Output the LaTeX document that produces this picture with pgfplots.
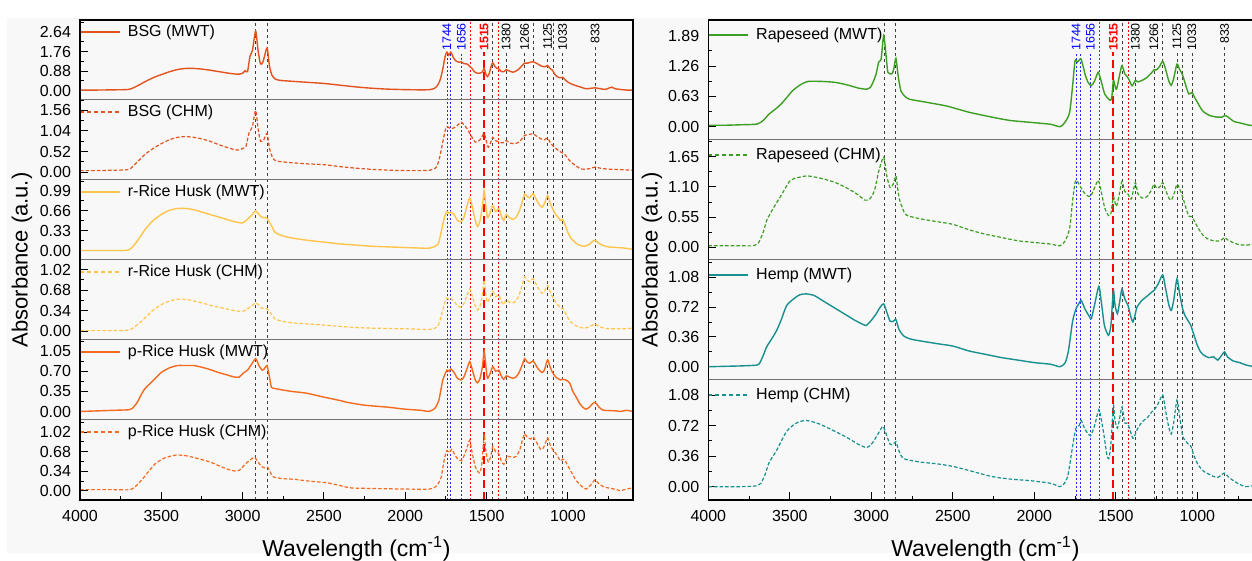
\documentclass[border=0pt]{standalone}
\usepackage{fontspec}
\setmainfont{Liberation Sans}
\usepackage{pgfplots}
\pgfplotsset{compat=1.18}

\definecolor{bgc}{HTML}{F8F8F8}
\definecolor{bsg}{HTML}{E2531F}
\definecolor{prh}{HTML}{F46A1F}
\definecolor{rrh}{HTML}{FFC54A}
\definecolor{rap}{HTML}{3C9E22}
\definecolor{hemp}{HTML}{17908F}

\tikzset{
  blk/.style={black!75, line width=0.4pt, dash pattern=on 1.5pt off 1.5pt},
  blu/.style={blue!85, line width=0.4pt, dash pattern=on 1pt off 1pt},
  redd/.style={red, line width=0.4pt, dash pattern=on 1pt off 1pt},
  redb/.style={red, line width=1pt, dash pattern=on 4pt off 2pt},
  lab/.style={rotate=90, anchor=east, font=\fontsize{6.2}{7}\selectfont, fill=bgc, inner sep=0.7pt},
  mwt/.style={line width=0.7pt},
  chm/.style={line width=0.6pt, dash pattern=on 1.8pt off 1pt},
  legmwt/.style={line width=0.9pt},
  legchm/.style={line width=0.9pt, dash pattern=on 2pt off 1.5pt},
}

\pgfplotsset{
  base/.style={scale only axis, anchor=south west, xmin=600, xmax=4000, x dir=reverse,
    axis line style={draw=black!55, line width=0.5pt},
    tick align=inside, ytick pos=left, xtick pos=bottom,
    major tick length=4pt, minor tick length=2pt,
    tick style={black, line width=0.5pt},
    xtick=\empty,
    ticklabel style={font=\fontsize{8}{9}\selectfont},
    yticklabel style={xshift=-1pt},
    every axis plot/.append style={smooth, tension=0.4},
  },
  L/.style={base, width=276.5pt, height=40pt},
  R/.style={base, width=277.1pt, height=60pt},
  bottomx/.style={xtick={1000,1500,2000,2500,3000,3500,4000},
    xticklabels={1000,1500,2000,2500,3000,3500,4000},
    minor xtick={750,1250,1750,2250,2750,3250,3750}, xticklabel style={yshift=-1.5pt}},
  vover/.style={scale only axis, anchor=south west, xmin=600, xmax=4000, x dir=reverse,
    ymin=0, ymax=240, height=240pt, hide axis, clip=false},
}

% legend sample: style, text, distance below the top edge
\newcommand\leg[3]{\draw[#1] ([yshift=-#3]rel axis cs:0,1) -- ++(20pt,0pt)
  node[right, text=black, inner sep=0pt, xshift=3.5pt, font=\fontsize{8}{9}\selectfont] {#2};}

\newcommand\vlines{%
  \draw[blk] (axis cs:2920,0) -- (axis cs:2920,240);
  \draw[blk] (axis cs:2850,0) -- (axis cs:2850,240);
  \draw[blu] (axis cs:1744,0) -- (axis cs:1744,240);
  \draw[blu] (axis cs:1720,0) -- (axis cs:1720,240);
  \draw[blu] (axis cs:1656,0) -- (axis cs:1656,240);
  \draw[redd] (axis cs:1602,0) -- (axis cs:1602,240);
  \draw[blk] (axis cs:1462,0) -- (axis cs:1462,240);
  \draw[redd] (axis cs:1425,0) -- (axis cs:1425,240);
  \draw[blk] (axis cs:1380,0) -- (axis cs:1380,240);
  \draw[blk] (axis cs:1266,0) -- (axis cs:1266,240);
  \draw[blk] (axis cs:1213,0) -- (axis cs:1213,240);
  \draw[blk] (axis cs:1125,0) -- (axis cs:1125,240);
  \draw[blk] (axis cs:1092,0) -- (axis cs:1092,240);
  \draw[blk] (axis cs:1033,0) -- (axis cs:1033,240);
  \draw[blk] (axis cs:833,0) -- (axis cs:833,240);
  \draw[redb] (axis cs:1515,0) -- (axis cs:1515,240);
  \node[lab, text=blue] at (axis cs:1744,239.3) {1744};
  \node[lab, text=blue] at (axis cs:1656,239.3) {1656};
  \node[lab, text=red, font=\fontsize{6.2}{7}\selectfont\bfseries] at (axis cs:1515,239.3) {1515};
  \node[lab] at (axis cs:1380,239.3) {1380};
  \node[lab] at (axis cs:1266,239.3) {1266};
  \node[lab] at (axis cs:1125,239.3) {1125};
  \node[lab] at (axis cs:1033,239.3) {1033};
  \node[lab] at (axis cs:833,239.3) {833};
}

\begin{document}
\begin{tikzpicture}
\fill[bgc] (3.5pt,4pt) rectangle (626pt,271.5pt);

% ---------------- LEFT PANEL ----------------
\begin{axis}[vover, at={(40pt,30.5pt)}, width=276.5pt]
\vlines
\end{axis}

\begin{axis}[L, at={(40pt,230.5pt)}, ymin=-0.43, ymax=3.197,
  ytick={0,0.88,1.76,2.64}, yticklabels={0.00,0.88,1.76,2.64}, minor ytick={0.44,1.32,2.2,3.08}]
\addplot[bsg, mwt] coordinates {(4000,0.02) (3900,0.02) (3800,0.03) (3700,0.05) (3650,0.2) (3600,0.4) (3550,0.58) (3500,0.72) (3450,0.85) (3400,0.95) (3350,1.0) (3300,1.0) (3250,0.97) (3200,0.92) (3150,0.86) (3100,0.8) (3050,0.75) (3020,0.74) (3000,0.78) (2985,0.9) (2970,0.85) (2955,1.55) (2940,1.8) (2920,2.7) (2905,1.8) (2890,1.2) (2875,1.3) (2850,1.92) (2835,1.1) (2820,0.7) (2800,0.52) (2770,0.46) (2700,0.42) (2600,0.37) (2500,0.32) (2400,0.24) (2300,0.16) (2200,0.1) (2100,0.06) (2000,0.04) (1900,0.03) (1850,0.04) (1820,0.1) (1800,0.25) (1785,0.5) (1770,0.95) (1755,1.55) (1744,1.74) (1732,1.6) (1720,1.74) (1705,1.5) (1690,1.35) (1670,1.28) (1656,1.3) (1640,1.22) (1620,1.2) (1604,1.1) (1590,1.0) (1575,0.85) (1555,0.78) (1535,0.8) (1525,0.85) (1515,1.0) (1505,0.75) (1495,0.63) (1485,0.75) (1470,1.15) (1462,1.26) (1450,1.1) (1435,1.0) (1425,0.98) (1410,0.86) (1395,0.85) (1380,0.94) (1365,0.9) (1340,0.83) (1320,0.88) (1300,0.98) (1280,1.15) (1266,1.24) (1250,1.24) (1230,1.28) (1215,1.31) (1200,1.26) (1180,1.18) (1160,1.1) (1140,1.08) (1125,1.14) (1110,1.0) (1095,0.92) (1080,0.72) (1060,0.6) (1045,0.58) (1033,0.6) (1020,0.5) (1000,0.38) (980,0.3) (950,0.22) (920,0.15) (890,0.08) (860,0.1) (833,0.12) (800,0.08) (770,0.05) (745,0.12) (730,0.15) (710,0.08) (680,0.05) (640,0.02) (600,0.02)};
\leg{bsg, legmwt}{BSG (MWT)}{6pt}
\end{axis}

\begin{axis}[L, at={(40pt,190.5pt)}, ymin=-0.197, ymax=1.823,
  ytick={0,0.52,1.04,1.56}, yticklabels={0.00,0.52,1.04,1.56}, minor ytick={0.26,0.78,1.3,1.82}]
\addplot[bsg, chm] coordinates {(4000,0.04) (3900,0.04) (3800,0.05) (3700,0.07) (3650,0.25) (3600,0.45) (3550,0.6) (3500,0.72) (3450,0.82) (3400,0.88) (3350,0.9) (3300,0.88) (3250,0.84) (3200,0.78) (3150,0.7) (3100,0.63) (3050,0.57) (3020,0.56) (3000,0.6) (2980,0.65) (2960,1.0) (2940,1.15) (2920,1.56) (2905,1.1) (2890,0.78) (2870,0.82) (2850,0.98) (2835,0.6) (2815,0.36) (2790,0.28) (2700,0.24) (2600,0.21) (2500,0.19) (2400,0.14) (2300,0.1) (2200,0.07) (2100,0.05) (2000,0.04) (1900,0.04) (1850,0.05) (1810,0.12) (1790,0.35) (1770,0.75) (1755,1.05) (1744,1.15) (1730,1.12) (1720,1.1) (1700,1.12) (1680,1.18) (1656,1.26) (1640,1.2) (1620,1.1) (1604,0.98) (1585,0.85) (1570,0.76) (1550,0.78) (1535,0.85) (1515,0.98) (1500,0.75) (1490,0.63) (1475,0.75) (1462,0.88) (1445,0.8) (1425,0.76) (1400,0.74) (1380,0.8) (1360,0.74) (1330,0.72) (1300,0.76) (1280,0.86) (1266,0.93) (1240,0.95) (1215,0.97) (1190,0.9) (1165,0.84) (1145,0.82) (1125,0.86) (1105,0.72) (1080,0.62) (1060,0.55) (1040,0.5) (1020,0.45) (1000,0.34) (980,0.25) (950,0.16) (920,0.08) (880,0.08) (850,0.11) (833,0.13) (800,0.1) (760,0.08) (700,0.07) (650,0.06) (600,0.05)};
\leg{bsg, legchm}{BSG (CHM)}{6pt}
\end{axis}

\begin{axis}[L, at={(40pt,150.5pt)}, ymin=-0.158, ymax=1.175,
  ytick={0,0.33,0.66,0.99}, yticklabels={0.00,0.33,0.66,0.99}, minor ytick={0.165,0.495,0.825,1.155}]
\addplot[rrh, mwt] coordinates {(4000,0.0) (3800,0.0) (3700,0.01) (3650,0.15) (3600,0.35) (3550,0.5) (3500,0.6) (3450,0.67) (3400,0.7) (3350,0.7) (3300,0.68) (3250,0.64) (3200,0.6) (3150,0.56) (3100,0.52) (3050,0.48) (3000,0.46) (2970,0.52) (2940,0.6) (2920,0.66) (2900,0.6) (2880,0.55) (2860,0.55) (2850,0.54) (2820,0.4) (2800,0.3) (2750,0.24) (2700,0.21) (2600,0.17) (2500,0.14) (2400,0.11) (2300,0.09) (2200,0.07) (2100,0.06) (2000,0.05) (1900,0.04) (1850,0.04) (1800,0.1) (1780,0.3) (1760,0.55) (1744,0.65) (1730,0.62) (1720,0.64) (1700,0.6) (1680,0.5) (1656,0.48) (1640,0.55) (1620,0.75) (1604,0.88) (1590,0.75) (1570,0.5) (1555,0.4) (1540,0.5) (1525,0.75) (1515,1.0) (1505,0.75) (1495,0.55) (1480,0.62) (1462,0.75) (1445,0.65) (1425,0.7) (1410,0.58) (1395,0.5) (1380,0.6) (1360,0.55) (1340,0.52) (1320,0.55) (1300,0.65) (1280,0.82) (1266,0.94) (1250,0.9) (1235,0.88) (1215,0.95) (1200,0.88) (1180,0.78) (1160,0.72) (1145,0.78) (1125,0.92) (1110,0.8) (1095,0.7) (1075,0.6) (1060,0.55) (1045,0.5) (1033,0.52) (1020,0.45) (1000,0.3) (980,0.2) (950,0.12) (920,0.08) (900,0.07) (870,0.1) (850,0.15) (833,0.17) (810,0.12) (780,0.08) (750,0.06) (700,0.05) (650,0.04) (600,0.02)};
\leg{rrh, legmwt}{r-Rice Husk (MWT)}{6pt}
\end{axis}

\begin{axis}[L, at={(40pt,110.5pt)}, ymin=-0.146, ymax=1.181,
  ytick={0,0.34,0.68,1.02}, yticklabels={0.00,0.34,0.68,1.02}, minor ytick={0.17,0.51,0.85}]
\addplot[rrh, chm] coordinates {(4000,0.01) (3800,0.01) (3700,0.02) (3650,0.1) (3600,0.22) (3550,0.35) (3500,0.44) (3450,0.5) (3400,0.53) (3350,0.53) (3300,0.5) (3250,0.47) (3200,0.43) (3150,0.4) (3100,0.37) (3050,0.34) (3000,0.33) (2970,0.37) (2940,0.43) (2920,0.47) (2900,0.43) (2880,0.38) (2850,0.37) (2820,0.27) (2800,0.2) (2750,0.16) (2700,0.14) (2600,0.12) (2500,0.1) (2400,0.08) (2300,0.06) (2200,0.05) (2000,0.04) (1850,0.03) (1800,0.08) (1780,0.25) (1760,0.45) (1744,0.55) (1730,0.52) (1720,0.54) (1700,0.5) (1680,0.42) (1656,0.4) (1640,0.46) (1620,0.6) (1604,0.7) (1590,0.6) (1570,0.42) (1555,0.35) (1540,0.42) (1525,0.62) (1515,0.85) (1505,0.62) (1495,0.48) (1480,0.55) (1462,0.66) (1445,0.57) (1425,0.6) (1410,0.5) (1395,0.44) (1380,0.52) (1360,0.48) (1340,0.47) (1320,0.5) (1300,0.6) (1280,0.78) (1266,0.9) (1250,0.85) (1235,0.82) (1215,0.87) (1200,0.8) (1180,0.7) (1160,0.63) (1145,0.66) (1125,0.76) (1110,0.66) (1095,0.57) (1075,0.48) (1060,0.43) (1045,0.38) (1033,0.38) (1020,0.33) (1000,0.22) (980,0.15) (950,0.09) (920,0.06) (900,0.05) (870,0.07) (850,0.1) (833,0.12) (810,0.08) (780,0.05) (750,0.04) (700,0.04) (650,0.04) (600,0.05)};
\leg{rrh, legchm}{r-Rice Husk (CHM)}{6pt}
\end{axis}

\begin{axis}[L, at={(40pt,70.5pt)}, ymin=-0.148, ymax=1.245,
  ytick={0,0.35,0.70,1.05}, yticklabels={0.00,0.35,0.70,1.05}, minor ytick={0.175,0.525,0.875,1.225}]
\addplot[prh, mwt] coordinates {(4000,0.0) (3900,0.01) (3800,0.02) (3700,0.03) (3680,0.05) (3650,0.15) (3626,0.28) (3600,0.4) (3550,0.54) (3500,0.68) (3450,0.76) (3400,0.8) (3350,0.8) (3300,0.8) (3250,0.77) (3200,0.73) (3150,0.68) (3100,0.64) (3050,0.6) (3020,0.6) (3000,0.66) (2970,0.72) (2950,0.8) (2920,0.92) (2900,0.8) (2880,0.72) (2865,0.75) (2850,0.8) (2835,0.6) (2823,0.42) (2800,0.4) (2785,0.39) (2700,0.35) (2610,0.32) (2500,0.25) (2400,0.19) (2358,0.16) (2250,0.11) (2107,0.075) (2000,0.04) (1900,0.02) (1856,0.0) (1820,0.05) (1794,0.19) (1770,0.54) (1744,0.72) (1730,0.7) (1720,0.74) (1700,0.68) (1680,0.58) (1656,0.55) (1640,0.6) (1620,0.75) (1604,0.87) (1590,0.75) (1570,0.55) (1555,0.5) (1540,0.58) (1525,0.8) (1515,1.05) (1505,0.8) (1495,0.58) (1480,0.65) (1462,0.78) (1445,0.7) (1425,0.72) (1410,0.62) (1395,0.56) (1380,0.62) (1360,0.6) (1340,0.58) (1320,0.6) (1300,0.68) (1280,0.82) (1266,0.92) (1250,0.86) (1235,0.84) (1215,0.88) (1200,0.82) (1180,0.73) (1160,0.68) (1145,0.72) (1125,0.9) (1110,0.78) (1095,0.68) (1075,0.6) (1060,0.57) (1045,0.55) (1033,0.56) (1015,0.55) (990,0.5) (970,0.35) (953,0.27) (930,0.15) (910,0.08) (890,0.04) (870,0.07) (850,0.13) (833,0.16) (810,0.08) (790,0.03) (777,0.02) (700,0.01) (679,0.0) (639,0.02) (600,0.0)};
\leg{prh, legmwt}{p-Rice Husk (MWT)}{6pt}
\end{axis}

\begin{axis}[L, bottomx, at={(40pt,30.5pt)}, ymin=-0.16, ymax=1.23,
  ytick={0,0.34,0.68,1.02}, yticklabels={0.00,0.34,0.68,1.02}, minor ytick={0.17,0.51,0.85,1.19}]
\addplot[prh, chm] coordinates {(4000,0.02) (3800,0.02) (3689,0.02) (3650,0.1) (3614,0.21) (3580,0.33) (3537,0.47) (3480,0.57) (3410,0.62) (3350,0.61) (3288,0.57) (3200,0.5) (3150,0.44) (3087,0.37) (3036,0.34) (3010,0.38) (2986,0.46) (2960,0.52) (2928,0.58) (2905,0.5) (2884,0.42) (2865,0.4) (2846,0.41) (2830,0.32) (2810,0.24) (2750,0.21) (2684,0.2) (2600,0.17) (2484,0.14) (2400,0.09) (2333,0.05) (2200,0.04) (2000,0.03) (1850,0.03) (1810,0.08) (1781,0.22) (1760,0.55) (1744,0.70) (1730,0.66) (1715,0.72) (1700,0.65) (1680,0.56) (1656,0.52) (1640,0.6) (1620,0.75) (1604,0.88) (1590,0.68) (1570,0.42) (1550,0.32) (1540,0.32) (1528,0.5) (1515,0.98) (1505,0.7) (1490,0.5) (1475,0.6) (1462,0.77) (1445,0.68) (1426,0.65) (1410,0.52) (1394,0.46) (1380,0.55) (1370,0.6) (1340,0.58) (1318,0.6) (1295,0.72) (1280,0.88) (1266,0.99) (1250,0.93) (1230,0.9) (1215,0.94) (1195,0.85) (1167,0.72) (1150,0.75) (1125,0.92) (1110,0.8) (1090,0.7) (1075,0.65) (1060,0.58) (1045,0.52) (1033,0.55) (1017,0.52) (990,0.38) (970,0.28) (953,0.19) (920,0.09) (890,0.03) (860,0.1) (833,0.19) (810,0.12) (780,0.07) (752,0.05) (700,0.02) (679,0.0) (640,0.03) (600,0.05)};
\leg{prh, legchm}{p-Rice Husk (CHM)}{6pt}
\end{axis}

\draw[black, line width=0.8pt] (40pt,30.5pt) rectangle (316.5pt,270.5pt);
\node[rotate=90, font=\fontsize{11}{13}\selectfont] at (11pt,150.5pt) {Absorbance (a.u.)};
\node[font=\fontsize{11.5}{13}\selectfont] at (178.25pt,6pt) {Wavelength (cm\textsuperscript{-1})};

% ---------------- RIGHT PANEL ----------------
\begin{axis}[vover, at={(354.15pt,30.5pt)}, width=277.1pt]
\vlines
\end{axis}

\begin{axis}[R, at={(354.15pt,210.5pt)}, ymin=-0.276, ymax=2.216,
  ytick={0,0.63,1.26,1.89}, yticklabels={0.00,0.63,1.26,1.89}, minor ytick={0.315,0.945,1.575,2.205}]
\addplot[rap, mwt] coordinates {(4000,0.03) (3900,0.03) (3800,0.04) (3700,0.055) (3660,0.14) (3628,0.26) (3590,0.36) (3556,0.46) (3520,0.6) (3485,0.74) (3440,0.86) (3388,0.94) (3300,0.94) (3221,0.92) (3150,0.87) (3077,0.8) (3029,0.78) (3005,0.82) (2986,0.95) (2970,1.1) (2955,1.34) (2940,1.4) (2924,1.89) (2910,1.5) (2898,1.13) (2873,1.1) (2862,1.2) (2849,1.42) (2835,1.05) (2818,0.74) (2790,0.62) (2766,0.57) (2700,0.53) (2600,0.47) (2526,0.42) (2400,0.3) (2262,0.2) (2150,0.13) (2022,0.09) (1900,0.05) (1842,0.0) (1810,0.1) (1783,0.3) (1765,0.85) (1750,1.37) (1735,1.34) (1715,1.41) (1700,1.25) (1687,1.07) (1670,0.92) (1651,0.85) (1630,0.95) (1608,1.13) (1590,0.95) (1568,0.68) (1536,0.55) (1525,0.6) (1515,0.96) (1505,0.85) (1495,0.78) (1475,1.1) (1462,1.27) (1445,1.1) (1430,1.04) (1415,0.95) (1400,0.85) (1380,0.96) (1365,0.93) (1340,0.96) (1310,1.02) (1280,1.12) (1266,1.18) (1250,1.18) (1230,1.26) (1212,1.36) (1195,1.2) (1175,0.95) (1160,0.86) (1145,1.0) (1125,1.3) (1110,1.2) (1090,1.07) (1070,0.85) (1052,0.68) (1033,0.71) (1015,0.6) (990,0.45) (968,0.33) (940,0.26) (922,0.23) (880,0.2) (848,0.2) (833,0.23) (815,0.21) (776,0.11) (740,0.08) (680,0.03) (640,0.02) (600,0.03)};
\leg{rap, legmwt}{Rapeseed (MWT)}{7.5pt}
\end{axis}

\begin{axis}[R, at={(354.15pt,150.5pt)}, ymin=-0.229, ymax=1.954,
  ytick={0,0.55,1.10,1.65}, yticklabels={0.00,0.55,1.10,1.65}, minor ytick={0.275,0.825,1.375,1.925}]
\addplot[rap, chm] coordinates {(4000,0.03) (3800,0.03) (3728,0.03) (3693,0.08) (3660,0.3) (3642,0.49) (3600,0.72) (3560,0.91) (3499,1.21) (3450,1.27) (3388,1.30) (3300,1.25) (3221,1.18) (3150,1.08) (3077,0.95) (3041,0.86) (3010,0.88) (2981,1.03) (2953,1.40) (2924,1.64) (2905,1.3) (2885,1.09) (2865,1.15) (2849,1.3) (2835,1.0) (2824,0.84) (2800,0.65) (2780,0.58) (2700,0.52) (2600,0.47) (2500,0.42) (2400,0.32) (2300,0.24) (2200,0.18) (2100,0.12) (2000,0.09) (1900,0.06) (1842,0.03) (1810,0.12) (1783,0.35) (1765,0.85) (1750,1.18) (1740,1.22) (1720,1.12) (1700,1.02) (1680,0.95) (1656,0.93) (1635,1.05) (1608,1.22) (1590,1.02) (1568,0.72) (1545,0.58) (1530,0.62) (1515,0.92) (1505,0.82) (1495,0.75) (1475,1.02) (1462,1.2) (1445,1.02) (1425,0.97) (1405,0.88) (1380,1.18) (1365,0.98) (1340,0.9) (1310,0.92) (1280,1.05) (1266,1.15) (1250,1.08) (1230,1.1) (1212,1.18) (1195,1.05) (1175,0.9) (1160,0.86) (1145,0.95) (1125,1.15) (1110,1.08) (1090,0.92) (1070,0.72) (1052,0.57) (1033,0.56) (1015,0.46) (990,0.33) (968,0.23) (940,0.16) (900,0.12) (860,0.12) (833,0.18) (815,0.14) (776,0.08) (740,0.05) (700,0.04) (660,0.06) (630,0.1) (600,0.15)};
\leg{rap, legchm}{Rapeseed (CHM)}{7.5pt}
\end{axis}

\begin{axis}[R, at={(354.15pt,90.5pt)}, ymin=-0.16, ymax=1.289,
  ytick={0,0.36,0.72,1.08}, yticklabels={0.00,0.36,0.72,1.08}, minor ytick={0.18,0.54,0.9,1.26}]
\addplot[hemp, mwt] coordinates {(4000,0.0) (3900,0.005) (3800,0.01) (3702,0.02) (3683,0.05) (3660,0.15) (3642,0.24) (3610,0.34) (3580,0.44) (3550,0.58) (3519,0.74) (3470,0.83) (3437,0.87) (3400,0.88) (3350,0.86) (3300,0.8) (3250,0.74) (3200,0.68) (3150,0.62) (3100,0.56) (3050,0.51) (3030,0.5) (3000,0.56) (2970,0.64) (2945,0.72) (2924,0.76) (2905,0.66) (2885,0.55) (2865,0.55) (2849,0.57) (2830,0.45) (2800,0.37) (2750,0.33) (2600,0.28) (2500,0.25) (2400,0.19) (2300,0.15) (2200,0.11) (2100,0.08) (2000,0.05) (1900,0.03) (1842,0.0) (1810,0.05) (1790,0.2) (1765,0.55) (1744,0.7) (1730,0.75) (1712,0.8) (1690,0.7) (1660,0.6) (1650,0.58) (1630,0.75) (1604,0.97) (1590,0.8) (1570,0.5) (1545,0.38) (1530,0.5) (1515,0.92) (1505,0.75) (1490,0.64) (1475,0.8) (1462,0.94) (1445,0.82) (1425,0.74) (1410,0.62) (1395,0.54) (1380,0.64) (1370,0.72) (1340,0.8) (1303,0.86) (1280,0.9) (1266,0.92) (1240,1.0) (1212,1.11) (1195,0.95) (1175,0.75) (1160,0.68) (1145,0.8) (1125,1.06) (1110,0.9) (1090,0.7) (1076,0.62) (1055,0.55) (1040,0.5) (1020,0.38) (1000,0.26) (980,0.18) (960,0.14) (930,0.11) (900,0.12) (875,0.08) (850,0.14) (833,0.18) (815,0.12) (780,0.07) (740,0.05) (700,0.02) (650,0.0) (600,-0.02)};
\leg{hemp, legmwt}{Hemp (MWT)}{7.5pt}
\end{axis}

\begin{axis}[R, bottomx, at={(354.15pt,30.5pt)}, ymin=-0.157, ymax=1.257,
  ytick={0,0.36,0.72,1.08}, yticklabels={0.00,0.36,0.72,1.08}, minor ytick={0.18,0.54,0.9}]
\addplot[hemp, chm] coordinates {(4000,0.0) (3800,0.0) (3700,0.01) (3677,0.04) (3650,0.15) (3628,0.28) (3580,0.43) (3520,0.65) (3460,0.75) (3400,0.78) (3320,0.74) (3221,0.65) (3150,0.58) (3080,0.5) (3029,0.46) (3000,0.5) (2981,0.55) (2950,0.65) (2928,0.71) (2905,0.6) (2885,0.5) (2865,0.5) (2849,0.53) (2830,0.42) (2801,0.33) (2700,0.29) (2600,0.27) (2502,0.24) (2400,0.19) (2262,0.12) (2150,0.09) (2022,0.07) (1900,0.04) (1842,0.0) (1815,0.04) (1795,0.12) (1775,0.35) (1759,0.55) (1744,0.69) (1725,0.72) (1712,0.78) (1690,0.68) (1656,0.6) (1630,0.72) (1604,0.91) (1590,0.8) (1572,0.6) (1555,0.38) (1543,0.33) (1530,0.5) (1515,0.96) (1505,0.78) (1490,0.69) (1475,0.82) (1462,0.94) (1445,0.75) (1430,0.75) (1415,0.68) (1395,0.57) (1380,0.62) (1370,0.67) (1340,0.76) (1303,0.82) (1280,0.88) (1266,0.9) (1240,0.98) (1212,1.08) (1195,0.9) (1175,0.7) (1160,0.62) (1145,0.75) (1125,1.02) (1110,0.85) (1090,0.6) (1076,0.55) (1055,0.5) (1040,0.48) (1020,0.36) (992,0.25) (960,0.18) (922,0.14) (900,0.12) (873,0.11) (850,0.14) (833,0.16) (800,0.1) (753,0.04) (704,0.0) (661,0.01) (600,0.02)};
\leg{hemp, legchm}{Hemp (CHM)}{7.5pt}
\end{axis}

\draw[black, line width=0.8pt] (354.15pt,30.5pt) rectangle (631.25pt,270.5pt);
\node[rotate=90, font=\fontsize{11}{13}\selectfont] at (326pt,150.5pt) {Absorbance (a.u.)};
\node[font=\fontsize{11.5}{13}\selectfont] at (492.7pt,6pt) {Wavelength (cm\textsuperscript{-1})};

\pgfresetboundingbox
\path[use as bounding box] (0pt,0pt) rectangle (626pt,280.5pt);
\end{tikzpicture}
\end{document}
